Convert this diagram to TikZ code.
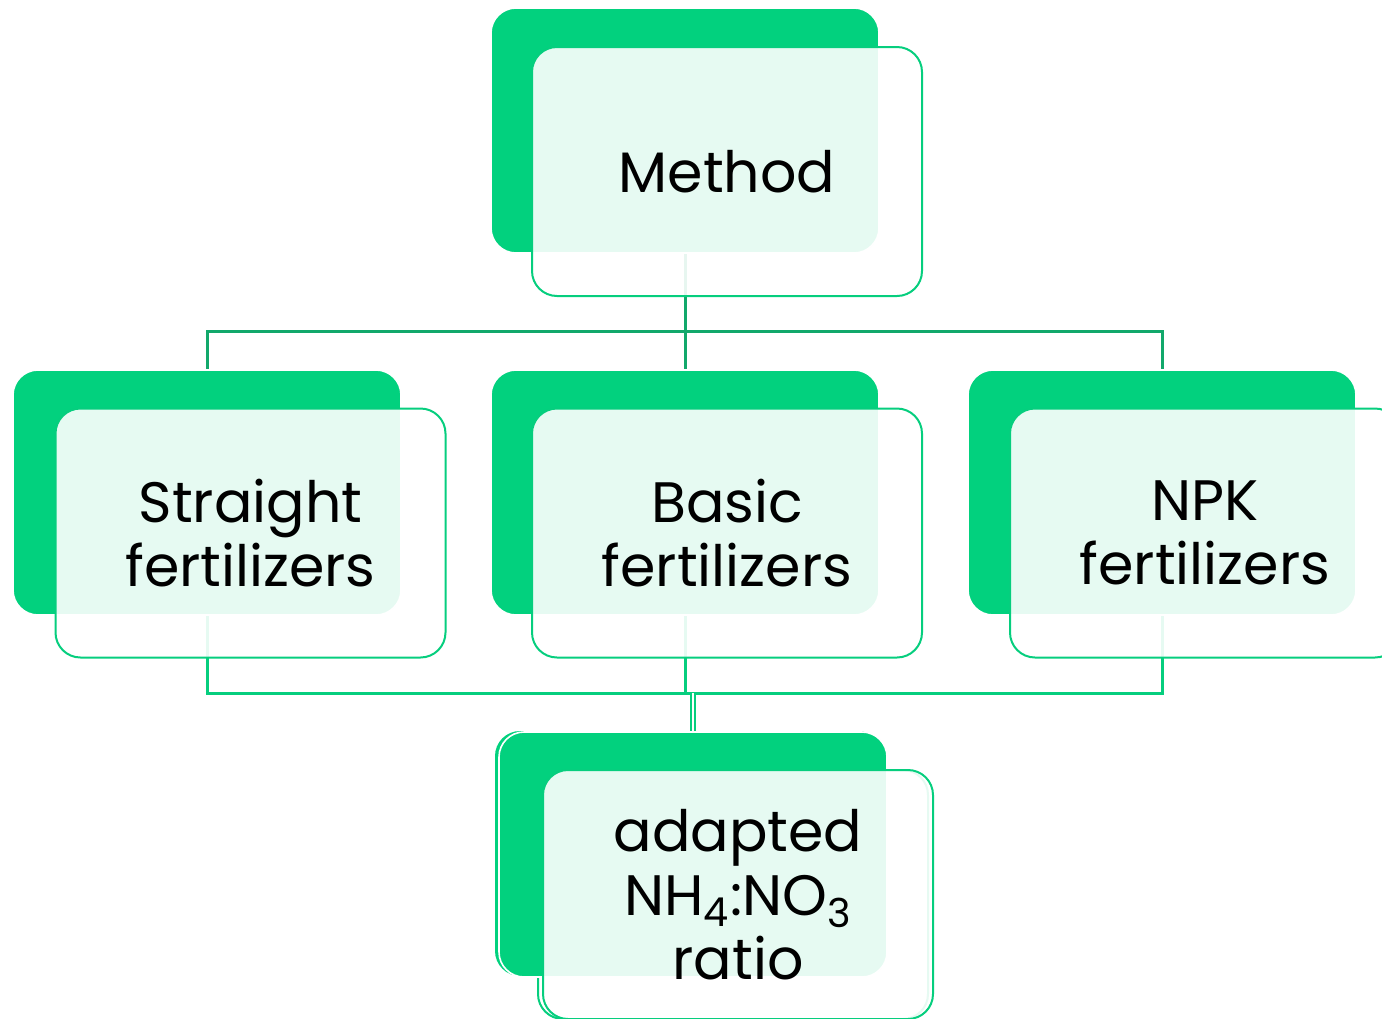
\documentclass[tikz,border=0pt]{standalone}
\usepackage{fontspec}
\setmainfont{Poppins}
\usepackage{xcolor}
\usetikzlibrary{backgrounds}

\definecolor{leafgreen}{RGB}{2,209,126}
\definecolor{stemgreen}{RGB}{18,168,107}
\definecolor{rimgreen}{RGB}{6,206,126}

\tikzset{
  greenbox/.style={rectangle, rounded corners=12.5pt, fill=leafgreen, draw=white, line width=0.8pt,
    minimum width=194pt, minimum height=122.5pt, inner sep=0pt},
  glassbox/.style={rectangle, rounded corners=12.5pt, fill=white, fill opacity=0.9, text opacity=1,
    draw=rimgreen, draw opacity=1, line width=1pt, minimum width=195pt, minimum height=124.5pt,
    inner sep=0pt, align=center, font=\fontsize{28.5}{32}\selectfont},
  ghostbox/.style={rectangle, rounded corners=12.5pt, draw=rimgreen, line width=1pt,
    minimum width=195pt, minimum height=124.5pt, inner sep=0pt},
  topline/.style={draw=stemgreen, line width=1.5pt},
  botline/.style={draw=rimgreen, line width=1.5pt}
}

\begin{document}
\begin{tikzpicture}[x=0.5pt,y=-0.5pt]
\useasboundingbox (0,0) rectangle (1382,1018);

% Top box
\node[greenbox] (methodback) at (685,130.5) {};
\node[glassbox] (method) at (727,171.5) {Method};

% Middle row
\node[greenbox] (straightback) at (207,492.5) {};
\node[glassbox] (straight) at (250.5,533) {Straight\\fertilizers};

\node[greenbox] (basicback) at (685,492.5) {};
\node[glassbox] (basic) at (727,533) {Basic\\fertilizers};

\node[greenbox] (npkback) at (1162,492.5) {};
\node[glassbox] (npk) at (1205,533) {NPK\\fertilizers};

% Bottom box (with its slipped copy)
\node[greenbox, draw=none] (ratioghostback) at (689,853.5) {};
\node[ghostbox] (ratioghost) at (733,894.5) {};
\node[greenbox] (ratioback) at (693,854.5) {};
\node[glassbox] (ratio) at (738,894.5) {adapted\\NH\textsubscript{4}:NO\textsubscript{3}\\ratio};

% Connectors
\coordinate (topbus) at (685,331);
\coordinate (botbus) at (685,693);
\begin{scope}[on background layer]
\draw[topline] (methodback.south) -- (basicback.north);
\draw[topline] (straightback.north) |- (topbus) -| (npkback.north);
\draw[botline] (basicback.south) -- (botbus);
\draw[botline] (straightback.south) |- (botbus) -| (npkback.south);
\draw[botline, double=white, double distance=1.2pt, line width=1pt] (ratioback.north) -- (ratioback.north |- botbus);
\end{scope}

\end{tikzpicture}
\end{document}
